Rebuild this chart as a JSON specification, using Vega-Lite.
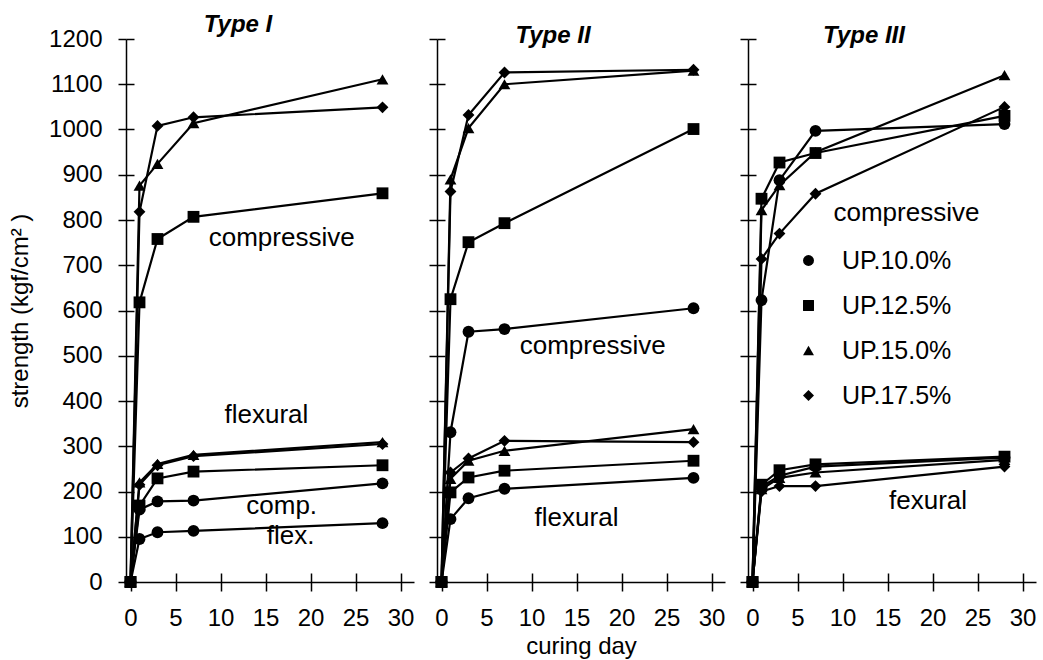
{
  "$schema": "https://vega.github.io/schema/vega-lite/v6.json",
  "padding": {"left": 8, "top": 13, "right": 5, "bottom": 2},
  "background": "white",
  "datasets": {
    "pts": [
      {"type":"I","up":"UP.10.0%","kind":"comp","day":0,"value":0},
      {"type":"I","up":"UP.10.0%","kind":"comp","day":1,"value":160},
      {"type":"I","up":"UP.10.0%","kind":"comp","day":3,"value":178},
      {"type":"I","up":"UP.10.0%","kind":"comp","day":7,"value":180},
      {"type":"I","up":"UP.10.0%","kind":"comp","day":28,"value":218},
      {"type":"I","up":"UP.10.0%","kind":"flex","day":0,"value":0},
      {"type":"I","up":"UP.10.0%","kind":"flex","day":1,"value":95},
      {"type":"I","up":"UP.10.0%","kind":"flex","day":3,"value":110},
      {"type":"I","up":"UP.10.0%","kind":"flex","day":7,"value":113},
      {"type":"I","up":"UP.10.0%","kind":"flex","day":28,"value":130},
      {"type":"I","up":"UP.12.5%","kind":"comp","day":0,"value":0},
      {"type":"I","up":"UP.12.5%","kind":"comp","day":1,"value":618},
      {"type":"I","up":"UP.12.5%","kind":"comp","day":3,"value":758},
      {"type":"I","up":"UP.12.5%","kind":"comp","day":7,"value":807},
      {"type":"I","up":"UP.12.5%","kind":"comp","day":28,"value":859},
      {"type":"I","up":"UP.12.5%","kind":"flex","day":0,"value":0},
      {"type":"I","up":"UP.12.5%","kind":"flex","day":1,"value":169},
      {"type":"I","up":"UP.12.5%","kind":"flex","day":3,"value":229},
      {"type":"I","up":"UP.12.5%","kind":"flex","day":7,"value":244},
      {"type":"I","up":"UP.12.5%","kind":"flex","day":28,"value":258},
      {"type":"I","up":"UP.15.0%","kind":"comp","day":0,"value":0},
      {"type":"I","up":"UP.15.0%","kind":"comp","day":1,"value":876},
      {"type":"I","up":"UP.15.0%","kind":"comp","day":3,"value":924},
      {"type":"I","up":"UP.15.0%","kind":"comp","day":7,"value":1014},
      {"type":"I","up":"UP.15.0%","kind":"comp","day":28,"value":1111},
      {"type":"I","up":"UP.15.0%","kind":"flex","day":0,"value":0},
      {"type":"I","up":"UP.15.0%","kind":"flex","day":1,"value":220},
      {"type":"I","up":"UP.15.0%","kind":"flex","day":3,"value":261},
      {"type":"I","up":"UP.15.0%","kind":"flex","day":7,"value":281},
      {"type":"I","up":"UP.15.0%","kind":"flex","day":28,"value":309},
      {"type":"I","up":"UP.17.5%","kind":"comp","day":0,"value":0},
      {"type":"I","up":"UP.17.5%","kind":"comp","day":1,"value":818},
      {"type":"I","up":"UP.17.5%","kind":"comp","day":3,"value":1008},
      {"type":"I","up":"UP.17.5%","kind":"comp","day":7,"value":1027},
      {"type":"I","up":"UP.17.5%","kind":"comp","day":28,"value":1049},
      {"type":"I","up":"UP.17.5%","kind":"flex","day":0,"value":0},
      {"type":"I","up":"UP.17.5%","kind":"flex","day":1,"value":215},
      {"type":"I","up":"UP.17.5%","kind":"flex","day":3,"value":258},
      {"type":"I","up":"UP.17.5%","kind":"flex","day":7,"value":278},
      {"type":"I","up":"UP.17.5%","kind":"flex","day":28,"value":305},

      {"type":"II","up":"UP.10.0%","kind":"comp","day":0,"value":0},
      {"type":"II","up":"UP.10.0%","kind":"comp","day":1,"value":331},
      {"type":"II","up":"UP.10.0%","kind":"comp","day":3,"value":553},
      {"type":"II","up":"UP.10.0%","kind":"comp","day":7,"value":559},
      {"type":"II","up":"UP.10.0%","kind":"comp","day":28,"value":605},
      {"type":"II","up":"UP.10.0%","kind":"flex","day":0,"value":0},
      {"type":"II","up":"UP.10.0%","kind":"flex","day":1,"value":139},
      {"type":"II","up":"UP.10.0%","kind":"flex","day":3,"value":185},
      {"type":"II","up":"UP.10.0%","kind":"flex","day":7,"value":206},
      {"type":"II","up":"UP.10.0%","kind":"flex","day":28,"value":230},
      {"type":"II","up":"UP.12.5%","kind":"comp","day":0,"value":0},
      {"type":"II","up":"UP.12.5%","kind":"comp","day":1,"value":625},
      {"type":"II","up":"UP.12.5%","kind":"comp","day":3,"value":751},
      {"type":"II","up":"UP.12.5%","kind":"comp","day":7,"value":793},
      {"type":"II","up":"UP.12.5%","kind":"comp","day":28,"value":1001},
      {"type":"II","up":"UP.12.5%","kind":"flex","day":0,"value":0},
      {"type":"II","up":"UP.12.5%","kind":"flex","day":1,"value":198},
      {"type":"II","up":"UP.12.5%","kind":"flex","day":3,"value":231},
      {"type":"II","up":"UP.12.5%","kind":"flex","day":7,"value":246},
      {"type":"II","up":"UP.12.5%","kind":"flex","day":28,"value":268},
      {"type":"II","up":"UP.15.0%","kind":"comp","day":0,"value":0},
      {"type":"II","up":"UP.15.0%","kind":"comp","day":1,"value":890},
      {"type":"II","up":"UP.15.0%","kind":"comp","day":3,"value":1003},
      {"type":"II","up":"UP.15.0%","kind":"comp","day":7,"value":1100},
      {"type":"II","up":"UP.15.0%","kind":"comp","day":28,"value":1130},
      {"type":"II","up":"UP.15.0%","kind":"flex","day":0,"value":0},
      {"type":"II","up":"UP.15.0%","kind":"flex","day":1,"value":228},
      {"type":"II","up":"UP.15.0%","kind":"flex","day":3,"value":268},
      {"type":"II","up":"UP.15.0%","kind":"flex","day":7,"value":290},
      {"type":"II","up":"UP.15.0%","kind":"flex","day":28,"value":338},
      {"type":"II","up":"UP.17.5%","kind":"comp","day":0,"value":0},
      {"type":"II","up":"UP.17.5%","kind":"comp","day":1,"value":863},
      {"type":"II","up":"UP.17.5%","kind":"comp","day":3,"value":1032},
      {"type":"II","up":"UP.17.5%","kind":"comp","day":7,"value":1126},
      {"type":"II","up":"UP.17.5%","kind":"comp","day":28,"value":1132},
      {"type":"II","up":"UP.17.5%","kind":"flex","day":0,"value":0},
      {"type":"II","up":"UP.17.5%","kind":"flex","day":1,"value":242},
      {"type":"II","up":"UP.17.5%","kind":"flex","day":3,"value":273},
      {"type":"II","up":"UP.17.5%","kind":"flex","day":7,"value":312},
      {"type":"II","up":"UP.17.5%","kind":"flex","day":28,"value":309},

      {"type":"III","up":"UP.10.0%","kind":"comp","day":0,"value":0},
      {"type":"III","up":"UP.10.0%","kind":"comp","day":1,"value":623},
      {"type":"III","up":"UP.10.0%","kind":"comp","day":3,"value":888},
      {"type":"III","up":"UP.10.0%","kind":"comp","day":7,"value":997},
      {"type":"III","up":"UP.10.0%","kind":"comp","day":28,"value":1012},
      {"type":"III","up":"UP.10.0%","kind":"flex","day":0,"value":0},
      {"type":"III","up":"UP.10.0%","kind":"flex","day":1,"value":210},
      {"type":"III","up":"UP.10.0%","kind":"flex","day":3,"value":235},
      {"type":"III","up":"UP.10.0%","kind":"flex","day":7,"value":255},
      {"type":"III","up":"UP.10.0%","kind":"flex","day":28,"value":275},
      {"type":"III","up":"UP.12.5%","kind":"comp","day":0,"value":0},
      {"type":"III","up":"UP.12.5%","kind":"comp","day":1,"value":847},
      {"type":"III","up":"UP.12.5%","kind":"comp","day":3,"value":927},
      {"type":"III","up":"UP.12.5%","kind":"comp","day":7,"value":948},
      {"type":"III","up":"UP.12.5%","kind":"comp","day":28,"value":1030},
      {"type":"III","up":"UP.12.5%","kind":"flex","day":0,"value":0},
      {"type":"III","up":"UP.12.5%","kind":"flex","day":1,"value":215},
      {"type":"III","up":"UP.12.5%","kind":"flex","day":3,"value":247},
      {"type":"III","up":"UP.12.5%","kind":"flex","day":7,"value":260},
      {"type":"III","up":"UP.12.5%","kind":"flex","day":28,"value":277},
      {"type":"III","up":"UP.15.0%","kind":"comp","day":0,"value":0},
      {"type":"III","up":"UP.15.0%","kind":"comp","day":1,"value":822},
      {"type":"III","up":"UP.15.0%","kind":"comp","day":3,"value":877},
      {"type":"III","up":"UP.15.0%","kind":"comp","day":7,"value":950},
      {"type":"III","up":"UP.15.0%","kind":"comp","day":28,"value":1120},
      {"type":"III","up":"UP.15.0%","kind":"flex","day":0,"value":0},
      {"type":"III","up":"UP.15.0%","kind":"flex","day":1,"value":205},
      {"type":"III","up":"UP.15.0%","kind":"flex","day":3,"value":230},
      {"type":"III","up":"UP.15.0%","kind":"flex","day":7,"value":242},
      {"type":"III","up":"UP.15.0%","kind":"flex","day":28,"value":270},
      {"type":"III","up":"UP.17.5%","kind":"comp","day":0,"value":0},
      {"type":"III","up":"UP.17.5%","kind":"comp","day":1,"value":714},
      {"type":"III","up":"UP.17.5%","kind":"comp","day":3,"value":770},
      {"type":"III","up":"UP.17.5%","kind":"comp","day":7,"value":858},
      {"type":"III","up":"UP.17.5%","kind":"comp","day":28,"value":1050},
      {"type":"III","up":"UP.17.5%","kind":"flex","day":0,"value":0},
      {"type":"III","up":"UP.17.5%","kind":"flex","day":1,"value":200},
      {"type":"III","up":"UP.17.5%","kind":"flex","day":3,"value":212},
      {"type":"III","up":"UP.17.5%","kind":"flex","day":7,"value":212},
      {"type":"III","up":"UP.17.5%","kind":"flex","day":28,"value":255}
    ],
    "ann": [
      {"type":"I","day":16.8,"value":742,"label":"compressive"},
      {"type":"I","day":15.1,"value":352,"label":"flexural"},
      {"type":"I","day":16.8,"value":150,"label":"comp."},
      {"type":"I","day":17.8,"value":83,"label":"flex."},
      {"type":"II","day":16.8,"value":504,"label":"compressive"},
      {"type":"II","day":15.0,"value":124,"label":"flexural"},
      {"type":"III","day":17.1,"value":797,"label":"compressive"},
      {"type":"III","day":19.5,"value":162,"label":"fexural"}
    ]
  },
  "hconcat": [
    {
      "width": 288, "height": 543,
      "title": {"text": "Type I", "dx": -32},
      "layer": [
        {
          "data": {"name": "pts"},
          "transform": [{"filter": "datum.type === 'I'"}],
          "mark": {"type": "line", "color": "black", "strokeWidth": 2.2},
          "encoding": {
            "x": {"field": "day", "type": "quantitative", "scale": {"domain": [-0.5, 31.5], "nice": false},
                  "axis": {"orient": "bottom", "values": [0,5,10,15,20,25,30], "tickSize": 9, "labelPadding": 15, "title": null}},
            "y": {"field": "value", "type": "quantitative", "scale": {"domain": [0, 1200], "nice": false},
                  "axis": {"orient": "left", "values": [0,100,200,300,400,500,600,700,800,900,1000,1100,1200], "format": "d", "tickSize": 8, "labelPadding": 16, "title": "strength (kgf/cm² )", "titlePadding": 16}},
            "detail": [{"field": "up"}, {"field": "kind"}]
          }
        },
        {
          "data": {"name": "pts"},
          "transform": [{"filter": "datum.type === 'I'"}],
          "mark": {"type": "point", "filled": true, "color": "black", "opacity": 1, "size": 140},
          "encoding": {
            "x": {"field": "day", "type": "quantitative",
                  "axis": {"orient": "bottom", "values": [0,5,10,15,20,25,30], "tickSize": -9, "labels": false, "domain": false, "title": null}},
            "y": {"field": "value", "type": "quantitative",
                  "axis": {"orient": "left", "values": [0,100,200,300,400,500,600,700,800,900,1000,1100,1200], "tickSize": -8, "labels": false, "domain": false, "title": null}},
            "shape": {"field": "up", "type": "nominal",
                      "scale": {"domain": ["UP.10.0%","UP.12.5%","UP.15.0%","UP.17.5%"], "range": ["circle","square","triangle-up","diamond"]},
                      "legend": null}
          }
        },
        {
          "data": {"name": "ann"},
          "transform": [{"filter": "datum.type === 'I'"}],
          "mark": {"type": "text", "font": "Liberation Sans", "fontSize": 26, "color": "black", "align": "center", "baseline": "alphabetic"},
          "encoding": {
            "x": {"field": "day", "type": "quantitative", "axis": null},
            "y": {"field": "value", "type": "quantitative", "axis": null},
            "text": {"field": "label"}
          }
        }
      ],
      "resolve": {"axis": {"x": "independent", "y": "independent"}}
    },
    {
      "width": 288, "height": 543,
      "title": {"text": "Type II"},
      "layer": [
        {
          "data": {"name": "pts"},
          "transform": [{"filter": "datum.type === 'II'"}],
          "mark": {"type": "line", "color": "black", "strokeWidth": 2.2},
          "encoding": {
            "x": {"field": "day", "type": "quantitative", "scale": {"domain": [-0.5, 31.5], "nice": false},
                  "axis": {"orient": "bottom", "values": [0,5,10,15,20,25,30], "tickSize": 9, "labelPadding": 15, "title": "curing day", "titlePadding": 4}},
            "y": {"field": "value", "type": "quantitative", "scale": {"domain": [0, 1200], "nice": false},
                  "axis": {"orient": "left", "values": [0,100,200,300,400,500,600,700,800,900,1000,1100,1200], "tickSize": 8, "labels": false, "title": null}},
            "detail": [{"field": "up"}, {"field": "kind"}]
          }
        },
        {
          "data": {"name": "pts"},
          "transform": [{"filter": "datum.type === 'II'"}],
          "mark": {"type": "point", "filled": true, "color": "black", "opacity": 1, "size": 140},
          "encoding": {
            "x": {"field": "day", "type": "quantitative",
                  "axis": {"orient": "bottom", "values": [0,5,10,15,20,25,30], "tickSize": -9, "labels": false, "domain": false, "title": null}},
            "y": {"field": "value", "type": "quantitative",
                  "axis": {"orient": "left", "values": [0,100,200,300,400,500,600,700,800,900,1000,1100,1200], "tickSize": -8, "labels": false, "domain": false, "title": null}},
            "shape": {"field": "up", "type": "nominal",
                      "scale": {"domain": ["UP.10.0%","UP.12.5%","UP.15.0%","UP.17.5%"], "range": ["circle","square","triangle-up","diamond"]},
                      "legend": null}
          }
        },
        {
          "data": {"name": "ann"},
          "transform": [{"filter": "datum.type === 'II'"}],
          "mark": {"type": "text", "font": "Liberation Sans", "fontSize": 26, "color": "black", "align": "center", "baseline": "alphabetic"},
          "encoding": {
            "x": {"field": "day", "type": "quantitative", "axis": null},
            "y": {"field": "value", "type": "quantitative", "axis": null},
            "text": {"field": "label"}
          }
        }
      ],
      "resolve": {"axis": {"x": "independent", "y": "independent"}}
    },
    {
      "width": 288, "height": 543,
      "title": {"text": "Type III"},
      "layer": [
        {
          "data": {"name": "pts"},
          "transform": [{"filter": "datum.type === 'III'"}],
          "mark": {"type": "line", "color": "black", "strokeWidth": 2.2},
          "encoding": {
            "x": {"field": "day", "type": "quantitative", "scale": {"domain": [-0.5, 31.5], "nice": false},
                  "axis": {"orient": "bottom", "values": [0,5,10,15,20,25,30], "tickSize": 9, "labelPadding": 15, "title": null}},
            "y": {"field": "value", "type": "quantitative", "scale": {"domain": [0, 1200], "nice": false},
                  "axis": {"orient": "left", "values": [0,100,200,300,400,500,600,700,800,900,1000,1100,1200], "tickSize": 8, "labels": false, "title": null}},
            "detail": [{"field": "up"}, {"field": "kind"}]
          }
        },
        {
          "data": {"name": "pts"},
          "transform": [{"filter": "datum.type === 'III'"}],
          "mark": {"type": "point", "filled": true, "color": "black", "opacity": 1, "size": 140},
          "encoding": {
            "x": {"field": "day", "type": "quantitative",
                  "axis": {"orient": "bottom", "values": [0,5,10,15,20,25,30], "tickSize": -9, "labels": false, "domain": false, "title": null}},
            "y": {"field": "value", "type": "quantitative",
                  "axis": {"orient": "left", "values": [0,100,200,300,400,500,600,700,800,900,1000,1100,1200], "tickSize": -8, "labels": false, "domain": false, "title": null}},
            "shape": {"field": "up", "type": "nominal",
                      "scale": {"domain": ["UP.10.0%","UP.12.5%","UP.15.0%","UP.17.5%"], "range": ["circle","square","triangle-up","diamond"]},
                      "legend": {"orient": "none", "legendX": 48, "legendY": 209, "title": null, "padding": 0,
                                 "labelFont": "Liberation Sans", "labelFontSize": 25, "labelColor": "black", "labelOffset": 21,
                                 "symbolSize": 120, "symbolFillColor": "black", "symbolStrokeWidth": 0, "rowPadding": 19}}
          }
        },
        {
          "data": {"name": "ann"},
          "transform": [{"filter": "datum.type === 'III'"}],
          "mark": {"type": "text", "font": "Liberation Sans", "fontSize": 26, "color": "black", "align": "center", "baseline": "alphabetic"},
          "encoding": {
            "x": {"field": "day", "type": "quantitative", "axis": null},
            "y": {"field": "value", "type": "quantitative", "axis": null},
            "text": {"field": "label"}
          }
        }
      ],
      "resolve": {"axis": {"x": "independent", "y": "independent"}}
    }
  ],
  "spacing": 23,
  "bounds": "flush",
  "resolve": {"legend": {"shape": "independent"}},
  "config": {
    "view": {"stroke": null},
    "font": "Liberation Sans",
    "title": {"font": "Liberation Sans", "fontSize": 24, "fontStyle": "italic", "fontWeight": "bold", "color": "black", "anchor": "middle", "dx": -28, "offset": -10},
    "axis": {"grid": false, "domainColor": "black", "tickColor": "black", "labelColor": "black", "titleColor": "black",
             "labelFont": "Liberation Sans", "titleFont": "Liberation Sans", "labelFontSize": 24, "titleFontSize": 24,
             "titleFontWeight": "normal", "domainWidth": 1.5, "tickWidth": 1.5}
  }
}
